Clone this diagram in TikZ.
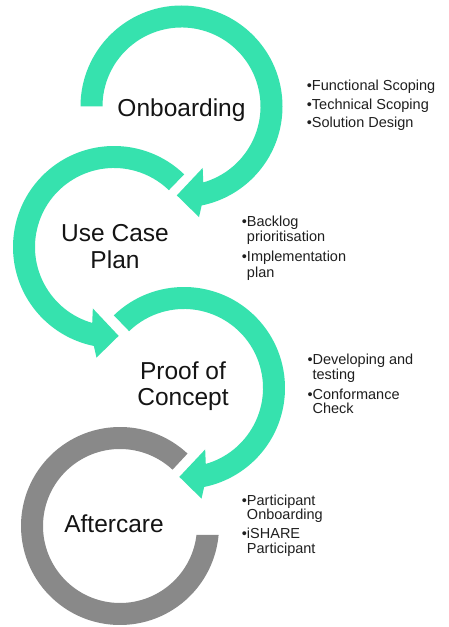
\documentclass[tikz,border=0pt]{standalone}
\usepackage{fontspec}
\setmainfont{Liberation Sans}
\usetikzlibrary{calc}
\definecolor{mint}{RGB}{54,226,174}
\definecolor{ringgray}{RGB}{137,137,137}
\begin{document}
\begin{tikzpicture}[x=1pt,y=1pt,
  biglabel/.style={anchor=base, inner sep=0pt, font=\fontsize{24.5}{27}\selectfont, text=black!92},
  listline/.style={anchor=base west, inner sep=0pt, font=\fontsize{14.5}{16}\selectfont, text=black!88},
  greenring/.style={fill=mint},
  grayring/.style={fill=ringgray}]
\fill[white] (0,0) rectangle (448,627);
\useasboundingbox (0,0) rectangle (448,627);
\coordinate (cO) at (181.5,520.5);
\coordinate (cU) at (114,380);
\coordinate (cP) at (184,239);
\coordinate (cA) at (120,101);
% Onboarding arrow (clockwise)
\path[greenring] ($(cO)+(180:101)$) arc[start angle=180, end angle=-78.5, radius=101]
  -- ($(cO)+(-81:112)$) -- ($(cO)+(-93:89)$) -- ($(cO)+(-71:65)$)
  -- ($(cO)+(-74:79)$) arc[start angle=-74, end angle=180, radius=79] -- cycle;
% Use Case arrow (counter-clockwise)
\path[greenring] ($(cU)+(46:101)$) arc[start angle=46, end angle=258.5, radius=101]
  -- ($(cU)+(261:112)$) -- ($(cU)+(273:89)$) -- ($(cU)+(251:65)$)
  -- ($(cU)+(254:79)$) arc[start angle=254, end angle=46, radius=79] -- cycle;
% Proof of Concept arrow (clockwise)
\path[greenring] ($(cP)+(134:101)$) arc[start angle=134, end angle=-78.5, radius=101]
  -- ($(cP)+(-81:112)$) -- ($(cP)+(-93:89)$) -- ($(cP)+(-71:65)$)
  -- ($(cP)+(-74:79)$) arc[start angle=-74, end angle=134, radius=79] -- cycle;
% Aftercare ring
\path[grayring] ($(cA)+(47:99)$) arc[start angle=47, end angle=354.8, radius=99]
  -- ($(cA)+(353.3:77)$) arc[start angle=353.3, end angle=47, radius=77] -- cycle;
% Big labels
\node[biglabel] (onb) at (181.5,510.3) {Onboarding};
\node[biglabel] (uc1) at (115,385.3) {Use Case};
\node[biglabel] (uc2) at (115,358.7) {Plan};
\node[biglabel] (poc1) at (183,247) {Proof of};
\node[biglabel] (poc2) at (183,221) {Concept};
\node[biglabel] (aft) at (114,94.3) {Aftercare};
% Lists
\node[listline] (f1) at (306.7,536.3) {•Functional Scoping};
\node[listline] (f2) at (306.7,517.7) {•Technical Scoping};
\node[listline] (f3) at (306.7,499.3) {•Solution Design};
\node[listline] (b1) at (241.7,400.3) {•Backlog};
\node[listline] (b2) at (241.7,385.3) {\hphantom{•}prioritisation};
\node[listline] (b3) at (241.7,365.3) {•Implementation};
\node[listline] (b4) at (241.7,349.7) {\hphantom{•}plan};
\node[listline] (d1) at (307.3,262) {•Developing and};
\node[listline] (d2) at (307.3,247.7) {\hphantom{•}testing};
\node[listline] (d3) at (307.3,227.7) {•Conformance};
\node[listline] (d4) at (307.3,213) {\hphantom{•}Check};
\node[listline] (p1) at (241.7,121) {•Participant};
\node[listline] (p2) at (241.7,107.7) {\hphantom{•}Onboarding};
\node[listline] (p3) at (241.7,88.7) {•iSHARE};
\node[listline] (p4) at (241.7,73.7) {\hphantom{•}Participant};
\end{tikzpicture}
\end{document}
